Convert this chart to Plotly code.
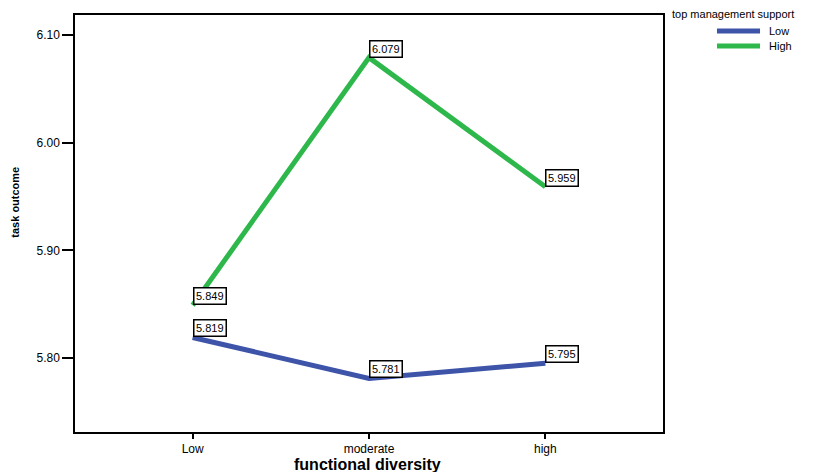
import plotly.graph_objects as go

categories = ["Low", "moderate", "high"]
low_support = [5.819, 5.781, 5.795]
high_support = [5.849, 6.079, 5.959]
series_names = ["Low", "High"]
y_ticks = [5.80, 5.90, 6.00, 6.10]
y_tick_labels = ["5.80", "5.90", "6.00", "6.10"]

colors = ["#3d54a9", "#2eb84b"]
xs = list(range(len(categories)))
FONT = "Liberation Sans, Arial"

fig = go.Figure()
for name, vals, col in zip(series_names, [low_support, high_support], colors):
    fig.add_trace(go.Scatter(x=xs, y=vals, mode="lines", name=name,
                             line=dict(color=col, width=5), showlegend=False))

for vals in [low_support, high_support]:
    for x, v in zip(xs, vals):
        fig.add_annotation(x=x, y=v, xref="x", yref="y", text=f"{v:.3f}",
                           showarrow=False, xanchor="left", yanchor="bottom",
                           bgcolor="white", bordercolor="black", borderwidth=1.5,
                           borderpad=1.5, font=dict(size=11, color="black", family=FONT))

# legend (title + entries)
fig.add_annotation(text="top management support", xref="paper", yref="paper",
                   x=1.0119, y=1.0024, xanchor="left", yanchor="middle", showarrow=False,
                   font=dict(size=11, color="black", family=FONT))
for i, (name, col) in enumerate(zip(series_names, colors)):
    yy = 0.9616 - i * 0.036
    fig.add_shape(type="line", xref="paper", yref="paper", x0=1.0918, x1=1.165,
                  y0=yy, y1=yy, line=dict(color=col, width=5))
    fig.add_annotation(text=name, xref="paper", yref="paper", x=1.1769, y=yy,
                       xanchor="left", yanchor="middle", showarrow=False,
                       font=dict(size=11, color="black", family=FONT))

fig.add_annotation(text="<b>task outcome</b>", xref="paper", yref="paper",
                   x=-0.102, y=0.55, xanchor="center", yanchor="middle", showarrow=False,
                   textangle=-90,
                   font=dict(size=11, color="black", family=FONT))
fig.add_annotation(text="<b>functional diversity</b>", xref="paper", yref="paper",
                   x=0.498, y=-0.0791, xanchor="center", yanchor="middle", showarrow=False,
                   font=dict(size=16, color="black", family=FONT))

fig.update_layout(
    width=840, height=472,
    margin=dict(l=67, r=185, t=7, b=48, autoexpand=False),
    paper_bgcolor="white", plot_bgcolor="white",
    font=dict(family=FONT, size=12, color="black"),
    showlegend=False,
    xaxis=dict(range=[-0.667, 2.667], tickmode="array", tickvals=xs,
               ticktext=categories, ticks="outside", ticklen=5, tickwidth=1.5,
               tickcolor="black", showline=True, linecolor="black", linewidth=1.5,
               mirror=True, showgrid=False, zeroline=False, automargin=False,
               tickfont=dict(size=12)),
    yaxis=dict(range=[5.7312, 6.1186], tickmode="array", tickvals=y_ticks,
               ticktext=y_tick_labels, ticks="outside", ticklen=11, tickwidth=1.5,
               tickcolor="black", showline=True, linecolor="black", linewidth=1.5,
               mirror=True, showgrid=False, zeroline=False, automargin=False,
               tickfont=dict(size=12)),
)

fig.write_html("out.html")
